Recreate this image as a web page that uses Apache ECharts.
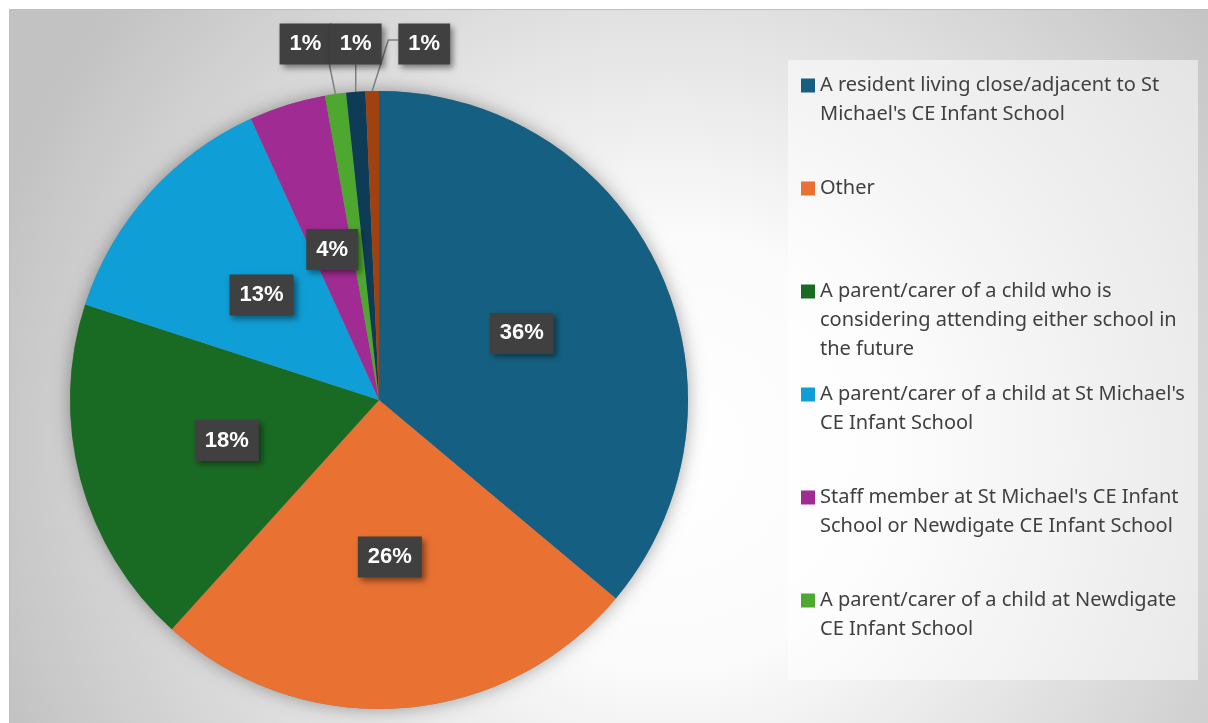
<!DOCTYPE html>
<html>
<head>
<meta charset="utf-8">
<script src="https://cdn.jsdelivr.net/npm/echarts@6/dist/echarts.min.js"></script>
<style>
  html, body { margin: 0; padding: 0; background: #ffffff; }
  #pie { width: 1208px; height: 723px; }
</style>
</head>
<body>
<div id="pie"></div>
<script>
// slices, clockwise from 12 o'clock
const sliceNames = [
  "A resident living close/adjacent to St Michael's CE Infant School",
  "Other",
  "A parent/carer of a child who is considering attending either school in the future",
  "A parent/carer of a child at St Michael's CE Infant School",
  "Staff member at St Michael's CE Infant School or Newdigate CE Infant School",
  "A parent/carer of a child at Newdigate CE Infant School",
  "Response 7",
  "Response 8"
]
const sliceValues = [36.1, 25.6, 18.3, 13.2, 4.0, 1.1, 1.0, 0.7]
const sliceColors = ["#156082", "#e97132", "#196b24", "#0f9ed5", "#a02b93", "#4ea72e", "#0e3b56", "#a0410f"]
// only the first six show up in the legend
const legendNames = sliceNames.slice(0, 6)

/* small slices get their label lifted above the pie */
const smallLabelShift = { 5: -30, 6: 0, 7: 52 }
const smallLabelTop = 44

const pieCenter = [379, 400]
const pieRadius = 309

const legendFont = "Noto Sans"
const legendFontSize = 20
const legendWrapWidth = 378

/* word wrap for legend text, so wrapped lines don't start with a space */
const measureCtx = document.createElement("canvas").getContext("2d")
measureCtx.font = legendFontSize + 'px "' + legendFont + '"'
function wrapWords(text) {
  const words = text.split(" ")
  const lines = []
  let line = ""
  words.forEach((w) => {
    const test = line ? line + " " + w : w
    if (line && measureCtx.measureText(test).width > legendWrapWidth) {
      lines.push(line)
      line = w
    } else {
      line = test
    }
  })
  lines.push(line)
  return lines
}

const chart = echarts.init(document.getElementById("pie"), null, { renderer: "canvas" })

const data = sliceValues.map((v, i) => {
  const item = { name: sliceNames[i], value: v, itemStyle: { color: sliceColors[i] } }
  if (smallLabelShift[i] !== undefined) {
    item.label = { position: "outside" }
    item.labelLine = { show: true, length: 20, length2: 8 }
  }
  return item
})

const option = {
  animation: false,
  graphic: [
    {
      type: "rect",
      z: -10,
      shape: { x: 9.5, y: 9.5, width: 1200, height: 714 },
      style: {
        fill: new echarts.graphic.RadialGradient(0.55, 0.62, 1.0, [
          { offset: 0, color: "#ffffff" },
          { offset: 0.3, color: "#fbfbfb" },
          { offset: 1, color: "#c2c2c2" }
        ]),
        stroke: "#bfbfbf",
        lineWidth: 1
      }
    },
    {
      type: "rect",
      z: -5,
      shape: { x: 788, y: 60, width: 410, height: 620 },
      style: { fill: "rgba(255,255,255,0.5)" }
    }
  ],
  legend: {
    orient: "vertical",
    left: 801,
    top: 11,
    padding: 0,
    // every entry gets the same 103px slot; the box is taller than the slot so long entries fit
    itemGap: -46,
    itemWidth: 14,
    itemHeight: 14,
    icon: "rect",
    selectedMode: false,
    data: legendNames,
    formatter: (name) => wrapWords(name).map((l) => "{t|" + l + "}").join("\n"),
    textStyle: {
      height: 29,
      padding: [60, 0, 60, 0],
      backgroundColor: "rgba(0,0,0,0)",
      lineHeight: 29,
      fontSize: legendFontSize,
      fontFamily: legendFont,
      color: "#404040",
      rich: {
        t: { fontSize: legendFontSize, lineHeight: 29, fontFamily: legendFont, color: "#404040" }
      }
    }
  },
  series: [
    {
      // soft shadow under the whole pie
      type: "pie",
      silent: true,
      center: pieCenter,
      radius: pieRadius,
      z: 1,
      label: { show: false },
      labelLine: { show: false },
      itemStyle: { color: "#888", shadowBlur: 18, shadowColor: "rgba(0,0,0,0.35)" },
      data: [{ name: "_shadow", value: 1 }]
    },
    {
      type: "pie",
      center: pieCenter,
      radius: pieRadius,
      startAngle: 90,
      clockwise: true,
      z: 2,
      avoidLabelOverlap: false,
      label: {
        show: true,
        position: "inside",
        formatter: (p) => Math.round(p.percent) + "%",
        color: "#ffffff",
        fontFamily: "Liberation Sans",
        fontWeight: "bold",
        fontSize: 22,
        lineHeight: 23,
        backgroundColor: "#404040",
        padding: [9, 10],
        shadowBlur: 6,
        shadowOffsetX: 3,
        shadowOffsetY: 3,
        shadowColor: "rgba(0,0,0,0.45)"
      },
      labelLine: {
        show: false,
        lineStyle: { color: "#808080", width: 1.5 }
      },
      labelLayout: (params) => {
        const shift = smallLabelShift[params.dataIndex]
        if (shift === undefined) return {}
        const anchor = params.labelLinePoints ? params.labelLinePoints[0] : [params.rect.x, params.rect.y]
        const cx = anchor[0] + shift
        const w = params.labelRect.width
        const h = params.labelRect.height
        let pts
        if (shift < 0) {
          pts = [anchor, [cx + w / 2 - 2, smallLabelTop + h / 2]]
        } else if (shift === 0) {
          pts = [anchor, [anchor[0], smallLabelTop + h / 2]]
        } else {
          pts = [anchor, [cx - w / 2 - 10, smallLabelTop - 4], [cx - w / 2, smallLabelTop - 4]]
        }
        return { x: cx, y: smallLabelTop, align: "center", verticalAlign: "middle", labelLinePoints: pts }
      },
      data: data
    }
  ]
}

chart.setOption(option)
</script>
</body>
</html>
